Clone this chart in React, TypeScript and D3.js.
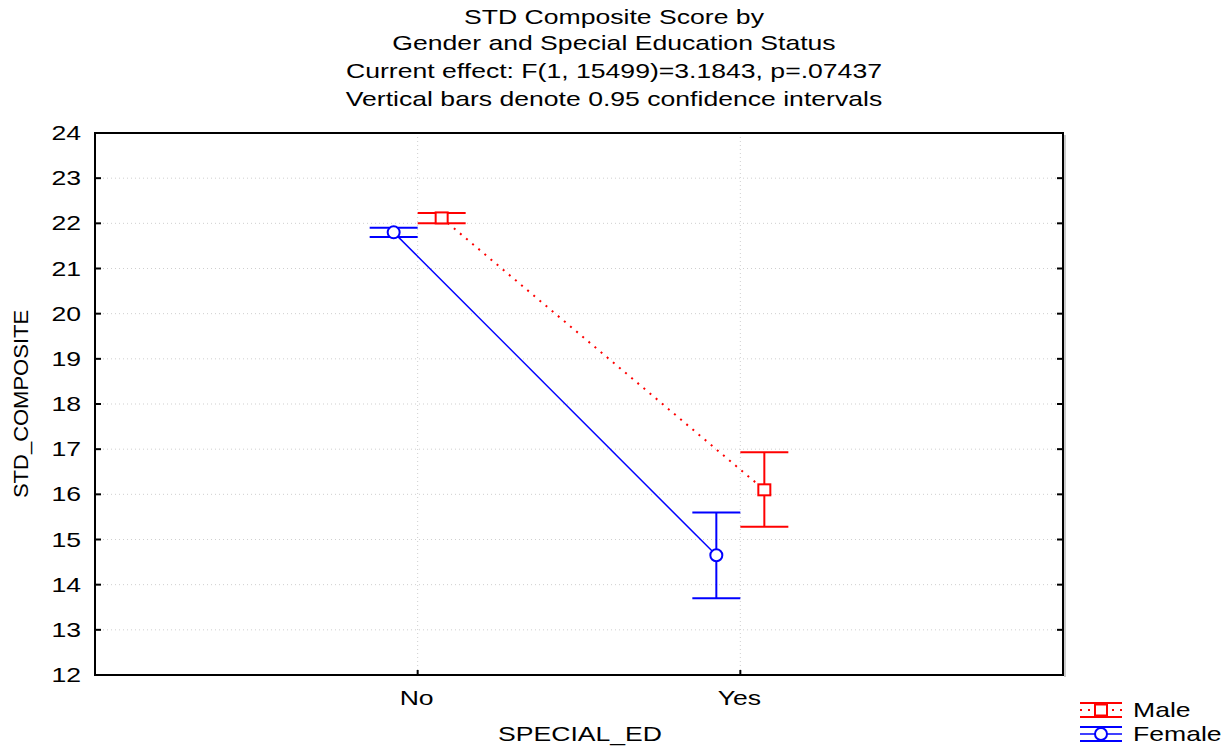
import React from "react";
import * as d3 from "d3";

const categories = ["No", "Yes"];
const yTicks = [12, 13, 14, 15, 16, 17, 18, 19, 20, 21, 22, 23, 24];
const maleMean = [22.12, 16.1];
const maleLow = [22.0, 15.28];
const maleHigh = [22.23, 16.93];
const femaleMean = [21.8, 14.65];
const femaleLow = [21.7, 13.7];
const femaleHigh = [21.9, 15.6];
const titleLines = [
  "STD Composite Score by",
  "Gender and Special Education Status",
  "Current effect: F(1, 15499)=3.1843, p=.07437",
  "Vertical bars denote 0.95 confidence intervals",
];

const W = 1229;
const H = 751;
const L = 95, R = 1063, T = 133, B = 675;
const FONT = "'Liberation Sans', Arial, sans-serif";
const FS = 20;
const SX = 1.33;

function SText({ x, y, anchor = "start", rotate = 0, sx = SX, children }: { x: number; y: number; anchor?: string; rotate?: number; sx?: number; children: React.ReactNode }) {
  return (
    <g transform={`translate(${x},${y}) rotate(${rotate}) scale(${sx},1)`}>
      <text x={0} y={0} textAnchor={anchor} fontSize={FS} fill="#000">{children}</text>
    </g>
  );
}

export default function App() {
  const y = d3.scaleLinear().domain([12, 24]).range([B, T]);
  const x = d3.scalePoint<string>().domain(categories).range([L, R]).padding(1);
  const off = 24;
  const cap = 24;

  const series = [
    { name: "Male", color: "#ff0000", mean: maleMean, low: maleLow, high: maleHigh, dx: off, dash: "2,6", shape: "square" },
    { name: "Female", color: "#0000ff", mean: femaleMean, low: femaleLow, high: femaleHigh, dx: -off, dash: null, shape: "circle" },
  ];

  const line = d3.line<[number, number]>().x((d) => d[0]).y((d) => d[1]);
  const titleY = [24, 50, 78, 106];

  return (
    <svg width={W} height={H} style={{ position: "absolute", left: 0, top: 0, background: "#fff" }} fontFamily={FONT}>
      <rect x={0} y={0} width={W} height={H} fill="#fff" />
      {titleLines.map((t, i) => (
        <SText key={i} x={614} y={titleY[i]} anchor="middle">{t}</SText>
      ))}
      {/* grid */}
      {yTicks.slice(1, -1).map((v) => (
        <line key={"g" + v} x1={L} x2={R} y1={y(v)} y2={y(v)} stroke="#cfcfcf" strokeWidth={1} strokeDasharray="1,3" />
      ))}
      {categories.map((c) => (
        <line key={"gx" + c} x1={x(c)!} x2={x(c)!} y1={T} y2={B} stroke="#cfcfcf" strokeWidth={1} strokeDasharray="1,3" />
      ))}
      {/* frame shadow */}
      <line x1={R + 2} x2={R + 2} y1={T + 2} y2={B + 2} stroke="#bbb" strokeWidth={1.5} />
      <rect x={L} y={T} width={R - L} height={B - T} fill="none" stroke="#000" strokeWidth={2} />
      {/* y ticks */}
      {yTicks.map((v) => (
        <g key={"yt" + v}>
          <line x1={L} x2={L + 6} y1={y(v)} y2={y(v)} stroke="#000" strokeWidth={2} />
          <line x1={R - 6} x2={R} y1={y(v)} y2={y(v)} stroke="#000" strokeWidth={2} />
          <SText x={L - 14} y={y(v) + 7} anchor="end">{v}</SText>
        </g>
      ))}
      {categories.map((c) => (
        <g key={"xt" + c}>
          <line x1={x(c)!} x2={x(c)!} y1={B} y2={B - 5} stroke="#000" strokeWidth={2} />
          <SText x={x(c)! - 1} y={B + 30} anchor="middle">{c}</SText>
        </g>
      ))}
      <SText x={580} y={741} anchor="middle">SPECIAL_ED</SText>
      <SText x={28} y={404} anchor="middle" rotate={-90} sx={1.1}>STD_COMPOSITE</SText>
      {/* series */}
      {series.map((s) => {
        const pts: [number, number][] = categories.map((c, i) => [x(c)! + s.dx, y(s.mean[i])]);
        return (
          <g key={s.name}>
            <path d={line(pts)!} fill="none" stroke={s.color} strokeWidth={s.dash ? 2 : 1.5} strokeDasharray={s.dash ?? undefined} />
            {categories.map((c, i) => {
              const cx = x(c)! + s.dx;
              return (
                <g key={c}>
                  <line x1={cx} x2={cx} y1={y(s.low[i])} y2={y(s.high[i])} stroke={s.color} strokeWidth={2} />
                  <line x1={cx - cap} x2={cx + cap} y1={y(s.low[i])} y2={y(s.low[i])} stroke={s.color} strokeWidth={2} />
                  <line x1={cx - cap} x2={cx + cap} y1={y(s.high[i])} y2={y(s.high[i])} stroke={s.color} strokeWidth={2} />
                  {s.shape === "circle" ? (
                    <circle cx={cx} cy={y(s.mean[i])} r={6} fill="#fff" stroke={s.color} strokeWidth={2} />
                  ) : (
                    <rect x={cx - 6} y={y(s.mean[i]) - 5.5} width={12} height={11} fill="#fff" stroke={s.color} strokeWidth={2} />
                  )}
                </g>
              );
            })}
          </g>
        );
      })}
      {/* legend */}
      {series.map((s, i) => {
        const cy = 710 + i * 24;
        const x0 = 1080, x1 = 1122, cx = 1101;
        return (
          <g key={"lg" + s.name}>
            <line x1={x0} x2={x1} y1={cy - 7} y2={cy - 7} stroke={s.color} strokeWidth={2} />
            <line x1={x0} x2={x1} y1={cy + 7} y2={cy + 7} stroke={s.color} strokeWidth={2} />
            <line x1={x0} x2={x1} y1={cy} y2={cy} stroke={s.color} strokeWidth={s.dash ? 2 : 1.5} strokeDasharray={s.dash ? "2,6" : undefined} />
            <line x1={cx} x2={cx} y1={cy - 7} y2={cy + 7} stroke={s.color} strokeWidth={2} />
            {s.shape === "circle" ? (
              <circle cx={cx} cy={cy} r={6} fill="#fff" stroke={s.color} strokeWidth={2} />
            ) : (
              <rect x={cx - 6} y={cy - 5.5} width={12} height={11} fill="#fff" stroke={s.color} strokeWidth={2} />
            )}
            <SText x={1133} y={cy + 7}>{s.name}</SText>
          </g>
        );
      })}
    </svg>
  );
}
